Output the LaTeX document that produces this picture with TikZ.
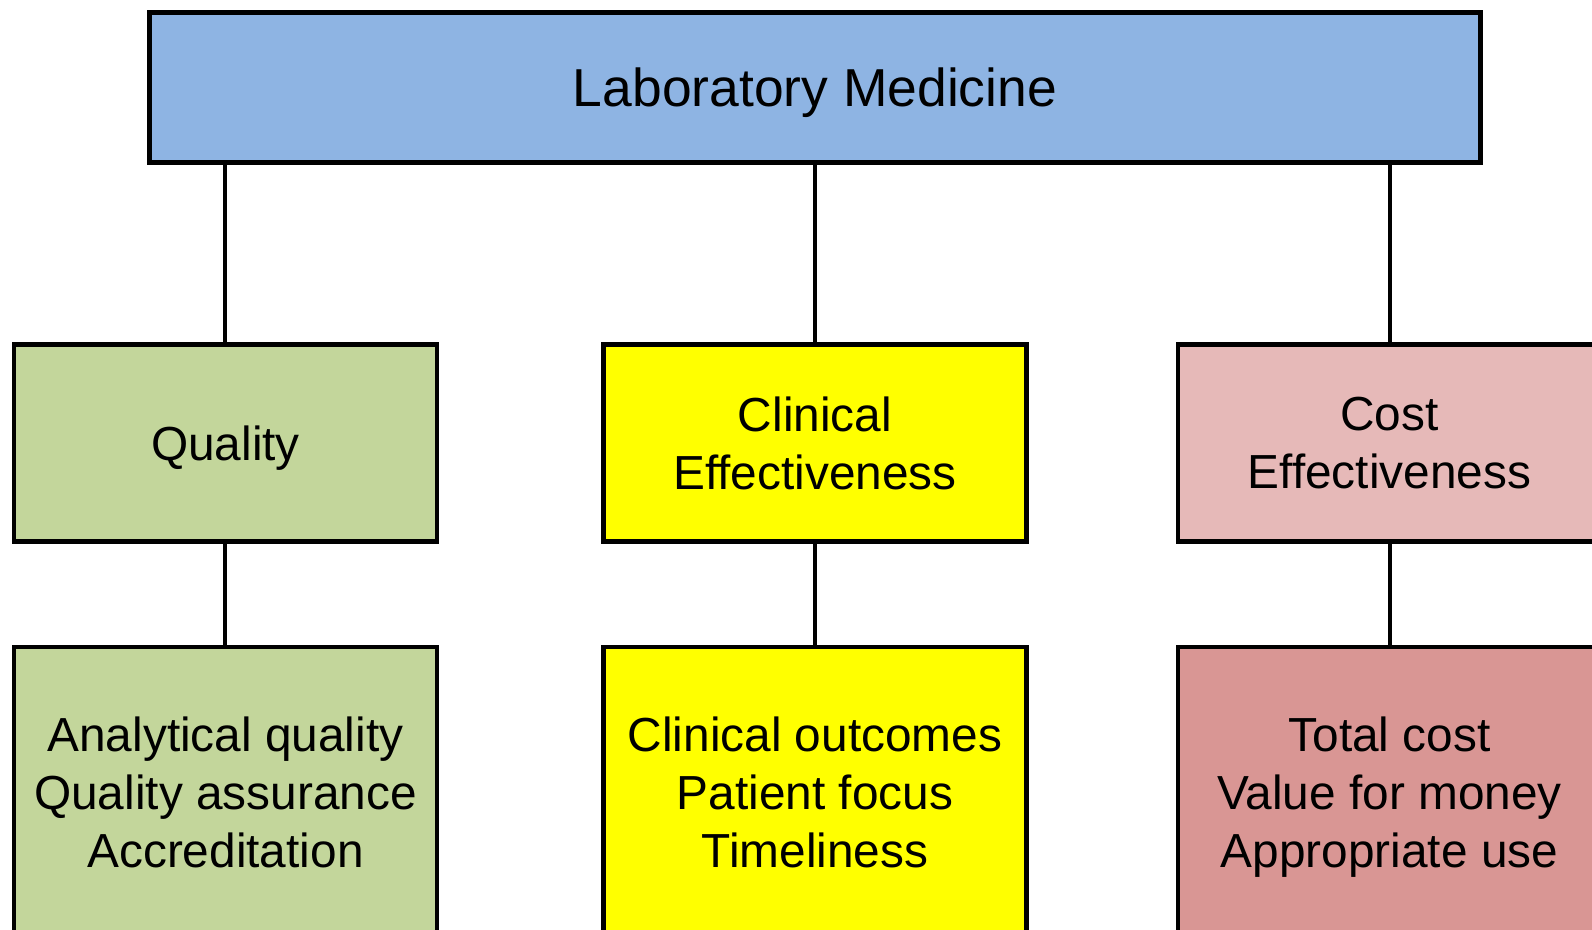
\documentclass[tikz,border=0pt]{standalone}
\usepackage{fontspec}
\setmainfont{Liberation Sans}
\definecolor{labblue}{HTML}{8EB4E3}
\definecolor{qualgreen}{HTML}{C3D69B}
\definecolor{clinyellow}{HTML}{FFFF00}
\definecolor{costpink}{HTML}{E6B9B8}
\definecolor{costrose}{HTML}{D99694}
% text whose descenders should not move it up
\newcommand\nodepth[1]{\raisebox{0pt}[\height][0pt]{#1}}
\begin{document}
\begin{tikzpicture}[
        level 1/.style={sibling distance=5.825cm, level distance=3.555cm},
        level 2/.style={level distance=3.49cm},
        edge from parent path={(\tikzparentnode.south -| \tikzchildnode.north) -- (\tikzchildnode.north)},
        edge from parent/.style={draw, line width=0.04cm},
        font=\fontsize{13.6pt}{16.5pt}\selectfont
    ]
    \tikzset{
        headbox/.style = {rectangle, draw=black, line width=0.045cm, align=center, minimum width=13.31cm, minimum height=1.5cm, font=\fontsize{15.2pt}{18pt}\selectfont},
        midbox/.style = {rectangle, draw=black, line width=0.045cm, align=center, minimum width=4.23cm, minimum height=1.97cm},
        lowbox/.style = {rectangle, draw=black, line width=0.045cm, align=center, minimum width=4.23cm, minimum height=2.9cm}
    }
    \useasboundingbox (0,0) rectangle (15.92,-9.30);
    \node[headbox, fill=labblue] (lab) at (8.15,-0.875) {\nodepth{Laboratory Medicine}}
    child[xshift=-0.07cm] { node[midbox, fill=qualgreen] (quality) {\nodepth{Quality}}
        child { node[lowbox, fill=qualgreen] (qualitems) {Analytical quality\\Quality assurance\\Accreditation} }
    }
    child { node[midbox, fill=clinyellow] (clinical) {Clinical\\Effectiveness}
        child { node[lowbox, fill=clinyellow] (clinitems) {Clinical outcomes\\Patient focus\\Timeliness} }
    }
    child[xshift=-0.08cm] { node[midbox, fill=costpink] (cost) {Cost\\Effectiveness}
        child { node[lowbox, fill=costrose] (costitems) {Total cost\\Value for money\\\nodepth{Appropriate use}} }
    }
    ;
\end{tikzpicture}
\end{document}
